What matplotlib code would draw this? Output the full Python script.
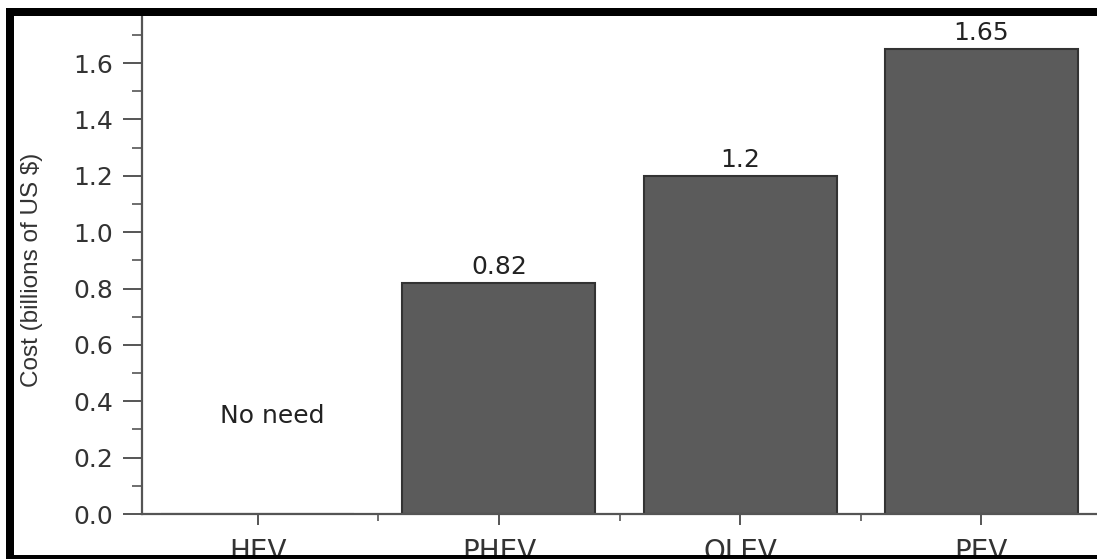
import matplotlib
matplotlib.use("Agg")
import matplotlib.pyplot as plt
from matplotlib.patches import Rectangle
from matplotlib.ticker import MultipleLocator, FixedLocator, FormatStrFormatter
from matplotlib import font_manager

categories = ["HEV", "PHEV", "OLEV", "PEV"]
costs = [0.0, 0.82, 1.2, 1.65]
bar_labels = [None, "0.82", "1.2", "1.65"]
no_need_text = "No need"
y_label = "Cost (billions of US $)"

names = {f.name for f in font_manager.fontManager.ttflist}
label_font = "Liberation Sans" if "Liberation Sans" in names else "DejaVu Sans"
plt.rcParams["font.family"] = ["DejaVu Sans"]

W, H = 1097, 559
fig = plt.figure(figsize=(W / 100, H / 100), dpi=100)

# axes in pixel coordinates
ax_left, ax_right, ax_top, ax_bottom = 142, 1097, 16, 514
ax = fig.add_axes([ax_left / W, (H - ax_bottom) / H,
                   (ax_right - ax_left) / W, (ax_bottom - ax_top) / H])

x = list(range(len(categories)))
ax.bar(x, costs, width=0.8, color="#5b5b5b", edgecolor="#333333", linewidth=1.5, zorder=2)

for xi, v, lab in zip(x, costs, bar_labels):
    if lab:
        ax.annotate(lab, (xi, v), xytext=(0, 6.5), textcoords="offset points",
                    ha="center", va="baseline", fontsize=18, color="#222222")

ax.text(0.062, 0.348, no_need_text, ha="center", va="center", fontsize=18, color="#222222")

ax.set_xlim(-0.48, 3.48)
ax.set_ylim(0, 1.767)

ax.set_xticks(x)
ax.set_xticklabels(categories)
ax.xaxis.set_minor_locator(FixedLocator([0.5, 1.5, 2.5]))
ax.yaxis.set_major_locator(MultipleLocator(0.2))
ax.yaxis.set_minor_locator(MultipleLocator(0.1))
ax.yaxis.set_major_formatter(FormatStrFormatter("%.1f"))

for s in ["top", "right"]:
    ax.spines[s].set_visible(False)
for s in ["left", "bottom"]:
    ax.spines[s].set_color("#555555")
    ax.spines[s].set_linewidth(1.6)

ax.tick_params(axis="y", which="major", direction="out", length=14, width=1.4,
               color="#555555", labelsize=18, labelcolor="#333333", pad=7)
ax.tick_params(axis="y", which="minor", direction="out", length=7, width=1.2, color="#555555")
ax.tick_params(axis="x", which="major", direction="out", length=8, width=1.4,
               color="#555555", labelsize=20, labelcolor="#333333", pad=9)
ax.tick_params(axis="x", which="minor", direction="out", length=5, width=1.2, color="#555555")

fig.text(32 / W, 1 - 270 / H, y_label, rotation=90, ha="center", va="center",
         fontsize=17.5, color="#333333", family=[label_font, "DejaVu Sans"])

# black frame (cropped screenshot border)
def px_rect(x0, y0, x1, y1, color):
    return Rectangle((x0 / W, 1 - y1 / H), (x1 - x0) / W, (y1 - y0) / H,
                     transform=fig.transFigure, facecolor=color, edgecolor="none",
                     zorder=100)

fig.patches.extend([
    px_rect(0, 0, W, 8, "white"),
    px_rect(0, 0, 6, H, "white"),
    px_rect(6, 8, W, 16, "black"),
    px_rect(6, 8, 14, H, "black"),
    px_rect(6, 555, W, H, "black"),
])

fig.savefig("out.png", dpi=100)
